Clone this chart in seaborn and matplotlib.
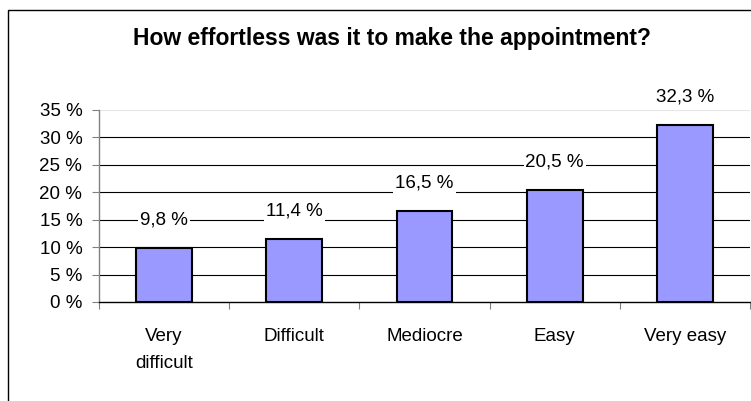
import matplotlib
matplotlib.use("Agg")
import matplotlib.pyplot as plt
from matplotlib.patches import Rectangle
import seaborn as sns
import pandas as pd

categories = ["Very\ndifficult", "Difficult", "Mediocre", "Easy", "Very easy"]
values = [9.8, 11.4, 16.5, 20.5, 32.3]
y_ticks = [0, 5, 10, 15, 20, 25, 30, 35]
title = "How effortless was it to make the appointment?"

sns.set_theme(style="white")
plt.rcParams["font.family"] = ["Liberation Sans", "DejaVu Sans"]

df = pd.DataFrame({"category": categories, "value": values})

fig = plt.figure(figsize=(7.51, 4.01), dpi=100)
ax = fig.add_axes([99 / 751, 1 - 302 / 401, 651 / 751, 192 / 401])

sns.barplot(data=df, x="category", y="value", ax=ax, color="#9999FF",
            saturation=1, width=0.43, edgecolor="black", linewidth=1.5, zorder=3)

ax.set_ylim(0, 35)
ax.set_xlim(-0.5, len(categories) - 0.5)
ax.set_yticks(y_ticks)
ax.set_yticklabels([f"{t} %" for t in y_ticks], fontsize=13.5, color="black")

# gridlines, with the top one faint
for t in y_ticks[1:-1]:
    ax.axhline(t, color="black", linewidth=0.8, zorder=1)
ax.axhline(35, color="#e6e6e6", linewidth=0.8, zorder=1)

for s in ["top", "right"]:
    ax.spines[s].set_visible(False)
ax.spines["left"].set_color("#808080")
ax.spines["left"].set_linewidth(1.0)
ax.spines["bottom"].set_color("black")
ax.spines["bottom"].set_linewidth(1.0)
ax.spines["bottom"].set_zorder(4)

ax.tick_params(axis="y", which="major", left=True, length=5, width=0.8,
               color="#808080", pad=7)
ax.set_xticks(range(len(categories)))
ax.set_xticklabels(categories, fontsize=13.5, color="black", linespacing=1.75)
ax.tick_params(axis="x", which="major", length=0, pad=19)
ax.set_xticks([i - 0.5 for i in range(len(categories) + 1)], minor=True)
ax.tick_params(axis="x", which="minor", bottom=True, length=5, width=0.8,
               color="#808080")

ax.set_xlabel("")
ax.set_ylabel("")

# value labels above each bar on white boxes
for i, v in enumerate(values):
    ax.annotate(f"{v:.1f} %".replace(".", ","), (i, v), xytext=(0, 28),
                textcoords="offset pixels", ha="center", va="center",
                fontsize=13.5, color="black", zorder=5,
                bbox=dict(boxstyle="square,pad=0.1", fc="white", ec="none"))

fig.text(392 / 751, 1 - 45 / 401, title, ha="center", va="baseline",
         fontsize=16.5, fontweight="bold", color="black")

# outer chart frame
fig.patches.append(Rectangle((8 / 751, -0.2), 1.2, 1.2 - 10 / 401,
                             transform=fig.transFigure, fill=False,
                             edgecolor="black", linewidth=1.0, zorder=0))

fig.savefig("out.png", dpi=100)
